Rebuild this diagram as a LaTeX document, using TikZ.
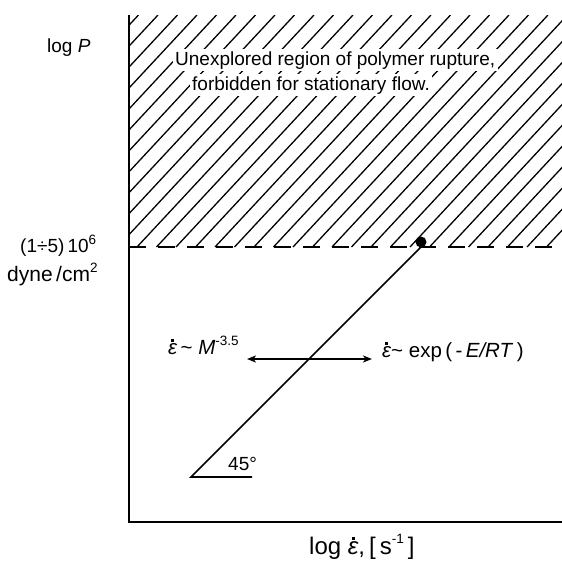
\documentclass[tikz,border=0pt]{standalone}
\usepackage{fontspec}
\setmainfont{Liberation Sans}
\usetikzlibrary{arrows.meta}
\newcommand\edot{\leavevmode\hbox{\itshape ε\llap{\raisebox{0.6em}{\rule{3pt}{3pt}}\kern3pt}}}
\newcommand\sups[1]{\raisebox{0.42em}{\fontsize{13.5}{14}\selectfont #1}}
\begin{document}
\begin{tikzpicture}[x=1pt,y=-1pt, font=\fontsize{19}{22}\selectfont,
  axis/.style={line width=1.8pt},
  hatch/.style={line width=1.3pt},
  curve/.style={line width=1.6pt},
  lbl/.style={anchor=base west, inner sep=0pt},
  midlbl/.style={lbl, font=\fontsize{20.5}{24}\selectfont},
  boxlbl/.style={anchor=base west, fill=white, inner sep=2.5pt},
  >={Stealth[length=9pt,width=7pt,inset=2.5pt]}]
\useasboundingbox (0,0) rectangle (562,565);
\coordinate (top) at (129,15);
\coordinate (origin) at (129,522);
\coordinate (xend) at (562,522);
\coordinate (dl) at (129,247);
\coordinate (dr) at (562,247);
\begin{scope}
  \clip (129,15) rectangle (562,247);
  \foreach \i in {-26,...,8} \draw[hatch] ({410+19.5*\i},247) -- ++(216,-232);
\end{scope}
\draw[hatch, dash pattern=on 17pt off 12pt] (dl) -- (dr);
\draw[axis] (top) -- (origin) -- (xend);
\node[boxlbl] (t1) at (172.5,65) {Unexplored region of polymer rupture,};
\node[boxlbl] (t2) at (189.5,90) {forbidden for stationary flow.};
\coordinate (a) at (191,477);
\coordinate (b) at (421,247);
\coordinate (c) at (252,477);
\draw[curve] (c) -- (a) -- (b);
\node[circle, fill, inner sep=0pt, minimum size=11pt] (dot) at (421,242) {};
\coordinate (al) at (247,359);
\coordinate (ar) at (372,359);
\draw[curve, <->] (al) -- (ar);
\node[lbl] (logP) at (47,52) {log \textit{P}};
\node[lbl] (p1) at (20,252) {(1÷5)\,10\sups{6}};
\node[lbl, font=\fontsize{21}{24}\selectfont] (p2) at (7,281) {dyne\,/cm\sups{2}};
\node[midlbl] (m1) at (168,354) {\edot\,\textasciitilde\ \textit{M}\sups{-3.5}};
\node[midlbl] (m2) at (382,357) {\edot\textasciitilde\ exp\,(\,-\,\textit{E/RT}\,)};
\node[lbl] (ang) at (228,470) {45°};
\node[lbl, font=\fontsize{24}{28}\selectfont] (xl) at (309,554) {log\ \edot,\,[\,s\sups{-1}\,]};
\end{tikzpicture}
\end{document}
